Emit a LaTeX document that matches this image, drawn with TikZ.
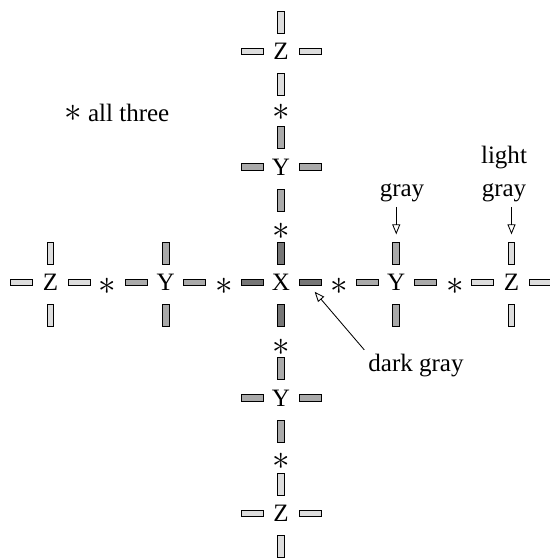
\documentclass[tikz,border=0pt]{standalone}
\usepackage{fontspec}
\setmainfont{Liberation Serif}
\usepackage{tikz}
\usetikzlibrary{arrows.meta}
\usepackage{xcolor}
\definecolor{darkbar}{HTML}{767676}
\definecolor{midbar}{HTML}{AAAAAA}
\definecolor{lightbar}{HTML}{DDDDDD}
\newcommand{\bigast}{{\fontsize{26}{30}\selectfont$\ast$}}

\begin{document}
\begin{tikzpicture}[
    x=0.025cm, y=-0.025cm,
    font=\fontsize{17.8}{23.5}\selectfont,
    site/.style={inner sep=0pt,anchor=base},
    star/.style={inner sep=0pt},
    hbar/.style={draw=black,line width=0.6pt,inner sep=0pt,minimum width=0.55cm,minimum height=0.17cm},
    vbar/.style={draw=black,line width=0.6pt,inner sep=0pt,minimum width=0.17cm,minimum height=0.55cm},
    note/.style={inner sep=0pt,align=center},
    arrow/.style={-{Triangle[open,length=0.25cm,width=0.2cm]},line width=0.6pt}
  ]
    \useasboundingbox (0,0) rectangle (550,560);
    % letters with their four bars
    \foreach \n/\cx/\cy/\ltr/\col in {
        zl/50.5/282.5/Z/lightbar, yl/165.75/282.5/Y/midbar, x/281/282.5/X/darkbar,
        yr/396.25/282.5/Y/midbar, zr/511.5/282.5/Z/lightbar,
        zt/281/51.5/Z/lightbar, yt/281/167/Y/midbar,
        yb/281/398/Y/midbar, zb/281/513.5/Z/lightbar}{
      \node[site] (\n) at (\cx,\cy+8.25) {\ltr};
      \node[hbar,fill=\col] (\n-w) at (\cx-29,\cy) {};
      \node[hbar,fill=\col] (\n-e) at (\cx+29,\cy) {};
      \node[vbar,fill=\col] (\n-n) at (\cx,\cy-29.5) {};
      \node[vbar,fill=\col] (\n-s) at (\cx,\cy+33) {};
    }
    % stars in between
    \foreach \n/\sx/\sy in {s1/107.5/286, s2/224.5/286, s3/339.5/286, s4/455/286,
        s5/281/112, s6/281/231, s7/281/347, s8/281/461}{
      \node[star] (\n) at (\sx,\sy) {\bigast};
    }

    \node[site,anchor=base west] (all) at (64,121) {\bigast\ all three};
    \node[note,anchor=south] (gr) at (402,202) {gray};
    \node[note,anchor=south] (lg) at (504,202) {light\\gray};
    \node[note] (dg) at (416,366) {dark gray};

    \draw[arrow,shorten <=0.12cm,shorten >=0.18cm] (gr.south -| yr-n.north) -- (yr-n.north);
    \draw[arrow,shorten <=0.12cm,shorten >=0.18cm] (lg.south -| zr-n.north) -- (zr-n.north);
    \draw[arrow,shorten <=0.15cm,shorten >=0.18cm] (dg.north west) -- (x-e.south);
  \end{tikzpicture}
\end{document}
